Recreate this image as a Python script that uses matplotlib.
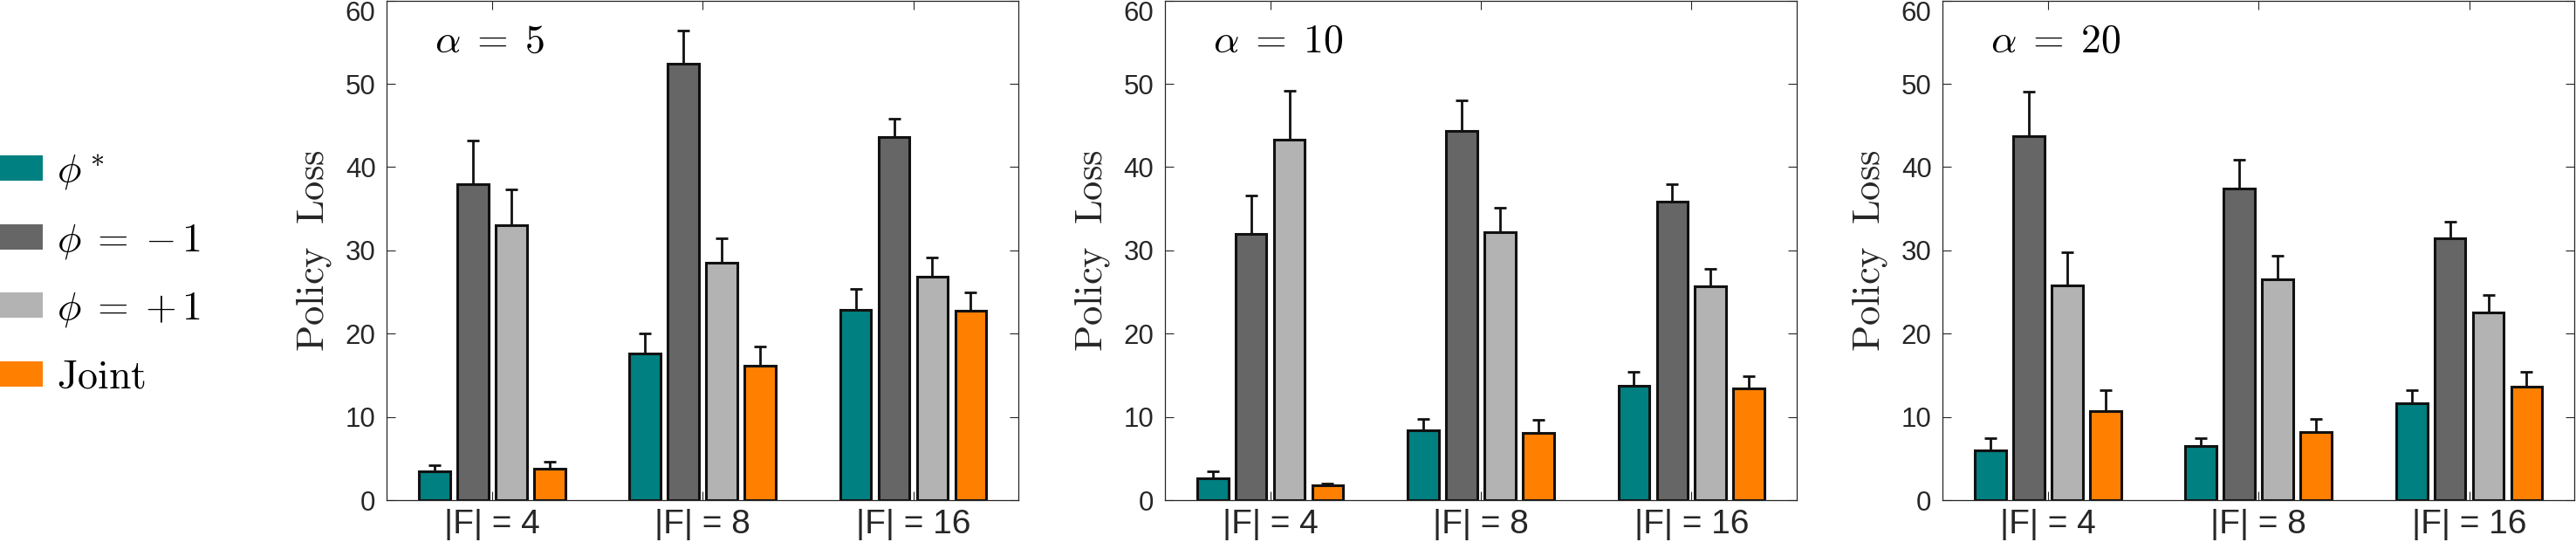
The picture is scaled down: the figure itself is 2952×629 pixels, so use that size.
import numpy as np
import matplotlib
matplotlib.use('Agg')
import matplotlib.pyplot as plt
from matplotlib.patches import Patch

plt.rcParams['mathtext.fontset'] = 'cm'
plt.rcParams['font.family'] = ['Liberation Sans', 'DejaVu Sans']

# --- datos ---
grupos = ['|F| = 4', '|F| = 8', '|F| = 16']
alphas = [r'$\alpha \;=\; 5$', r'$\alpha \;=\; 10$', r'$\alpha \;=\; 20$']
series = [r'$\phi^*$', r'$\phi\;=\;{-}\,1$', r'$\phi\;=\;{+}\,1$', r'$\mathrm{Joint}$']
colores = ['#008080', '#666666', '#b3b3b3', '#ff8000']

# alpha = 5
a5_teal = [3.5, 17.6, 22.9]
a5_dark = [37.9, 52.4, 43.6]
a5_light = [33.0, 28.5, 26.8]
a5_joint = [3.8, 16.1, 22.8]
a5_teal_err = [0.7, 2.4, 2.5]
a5_dark_err = [5.3, 4.0, 2.2]
a5_light_err = [4.3, 2.9, 2.3]
a5_joint_err = [0.8, 2.4, 2.2]

# alpha = 10
a10_teal = [2.65, 8.4, 13.7]
a10_dark = [32.0, 44.3, 35.8]
a10_light = [43.3, 32.2, 25.7]
a10_joint = [1.77, 8.1, 13.4]
a10_teal_err = [0.85, 1.4, 1.7]
a10_dark_err = [4.6, 3.7, 2.2]
a10_light_err = [5.9, 2.9, 2.1]
a10_joint_err = [0.25, 1.5, 1.5]

# alpha = 20
a20_teal = [6.0, 6.5, 11.6]
a20_dark = [43.7, 37.4, 31.4]
a20_light = [25.8, 26.5, 22.5]
a20_joint = [10.7, 8.2, 13.6]
a20_teal_err = [1.45, 0.9, 1.6]
a20_dark_err = [5.4, 3.5, 2.0]
a20_light_err = [4.0, 2.9, 2.1]
a20_joint_err = [2.5, 1.6, 1.8]

paneles = [
    ([a5_teal, a5_dark, a5_light, a5_joint],
     [a5_teal_err, a5_dark_err, a5_light_err, a5_joint_err]),
    ([a10_teal, a10_dark, a10_light, a10_joint],
     [a10_teal_err, a10_dark_err, a10_light_err, a10_joint_err]),
    ([a20_teal, a20_dark, a20_light, a20_joint],
     [a20_teal_err, a20_dark_err, a20_light_err, a20_joint_err]),
]

# --- figura ---
fig = plt.figure(figsize=(29.52, 6.29), dpi=100)
lefts = [0.1501, 0.4522, 0.7541]
ancho = 0.2453
abajo = 0.0890
alto = 0.9100

x = np.arange(1, 4)
offsets = [-0.273, -0.091, 0.091, 0.273]
bw = 0.148
gris = '#262626'

for i, (medias, errores) in enumerate(paneles):
    ax = fig.add_axes([lefts[i], abajo, ancho, alto])
    for k in range(4):
        ax.bar(x + offsets[k], medias[k], width=bw, color=colores[k],
               edgecolor='#111111', linewidth=2.2, zorder=2)
        ax.errorbar(x + offsets[k], medias[k],
                    yerr=[np.zeros(3), errores[k]], fmt='none',
                    ecolor='#111111', elinewidth=2.0, capsize=4.7,
                    capthick=2.0, zorder=3)
    ax.set_xlim(0.5, 3.5)
    ax.set_ylim(0, 60)
    ax.set_yticks(range(0, 61, 10))
    ax.set_xticks(x)
    ax.set_xticklabels(grupos)
    ax.tick_params(axis='y', direction='in', length=7, width=0.8,
                   labelsize=22.5, pad=9, colors=gris, right=True)
    ax.tick_params(axis='x', direction='in', length=7, width=0.8,
                   labelsize=28, pad=7, colors=gris, top=True)
    # la etiqueta "60" queda dentro de la figura, como en el original
    ax.yaxis.get_major_ticks()[-1].label1.set_verticalalignment('top')
    for s in ax.spines.values():
        s.set_color(gris)
        s.set_linewidth(0.9)
    ax.set_ylabel(r'$\mathrm{Policy\ \ Loss}$', fontsize=32, color=gris)
    ax.yaxis.set_label_coords(-0.084, 0.5)
    ax.text(0.076, 0.918, alphas[i], transform=ax.transAxes,
            fontsize=33, ha='left', va='center', color='black')

handles = [Patch(facecolor=c, edgecolor='none') for c in colores]
fig.legend(handles, series, loc='center left', bbox_to_anchor=(0.0, 0.5),
           frameon=False, fontsize=33, borderaxespad=0, borderpad=0,
           handlelength=1.07, handleheight=0.6, handletextpad=0.35,
           labelspacing=0.72)

fig.savefig('out.png', dpi=100)
